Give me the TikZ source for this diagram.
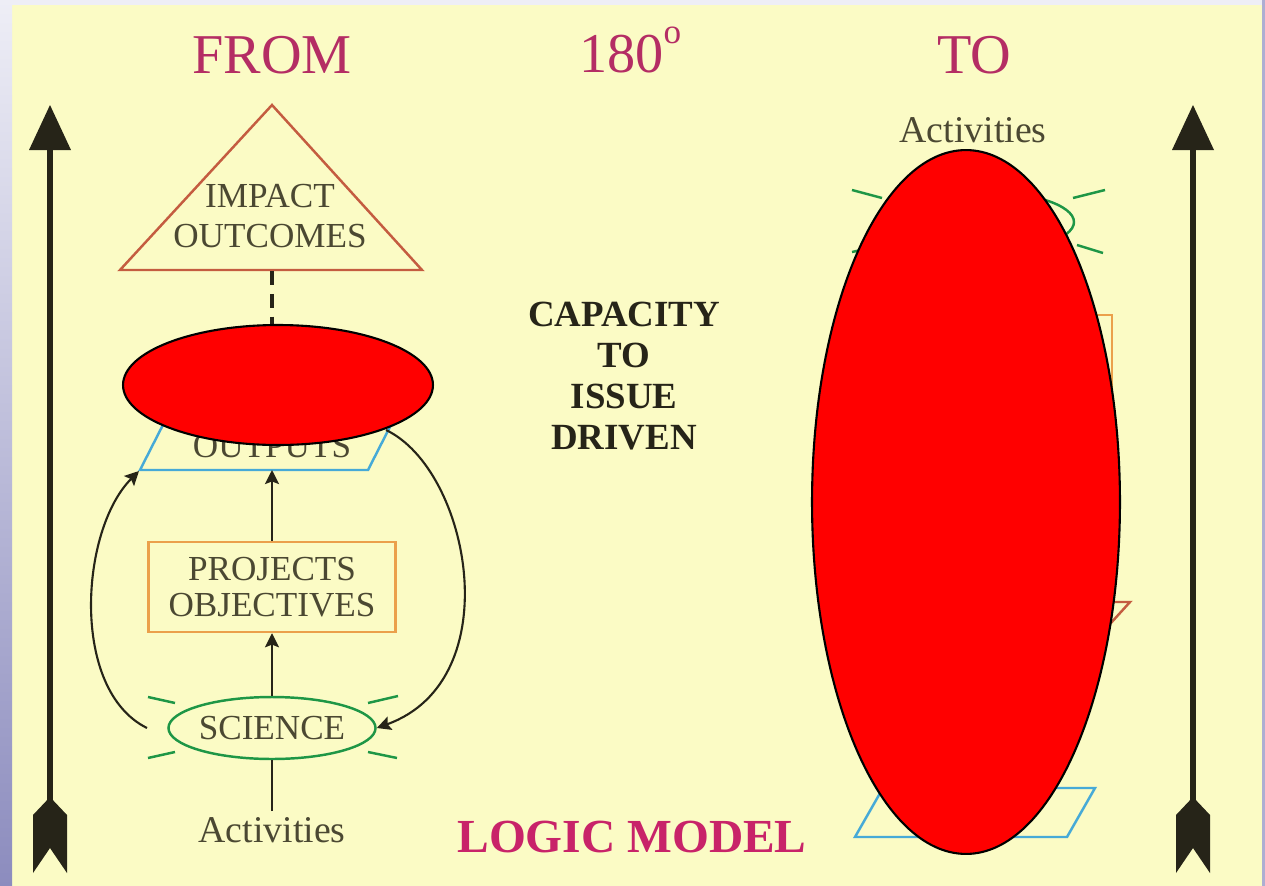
\documentclass[tikz,border=0pt]{standalone}
\usepackage{fontspec}
\setmainfont{Liberation Serif}
\usetikzlibrary{arrows.meta,shapes.geometric}

\definecolor{paper}{RGB}{251,251,197}
\definecolor{edgetop}{RGB}{238,238,246}
\definecolor{edgebot}{RGB}{140,140,190}
\definecolor{titlered}{RGB}{180,45,100}
\definecolor{logicred}{RGB}{200,35,105}
\definecolor{labelgray}{RGB}{75,72,50}
\definecolor{inkdark}{RGB}{38,36,24}
\definecolor{tricol}{RGB}{196,92,64}
\definecolor{boxcol}{RGB}{235,160,75}
\definecolor{paracol}{RGB}{70,170,215}
\definecolor{scicol}{RGB}{30,150,70}

\begin{document}
\begin{tikzpicture}[x=0.02cm,y=-0.02cm,
    title/.style={text=titlered,font=\fontsize{32}{36}\selectfont},
    lbl/.style={text=labelgray,font=\fontsize{20}{23}\selectfont,align=center},
    bigline/.style={line width=3.4pt,draw=inkdark},
    conn/.style={line width=1.2pt,draw=inkdark,-{Stealth[length=8pt,width=8pt,inset=1.5pt]}},
    ray/.style={line width=1.4pt,draw=scicol},
    redact/.style={fill=red,draw=black,line width=1.2pt}]
    % background
    \fill[paper] (0,0) rectangle (1265,886);
    \fill[edgetop] (0,0) rectangle (1265,5);
    \shade[top color=edgetop,bottom color=edgebot] (0,0) rectangle (12,886);
    \fill[edgebot!70] (1262,0) rectangle (1265,886);

    % side arrows
    \foreach \X in {50,1193}{
        \draw[bigline] (\X,140) -- (\X,810);
        \fill[inkdark] (\X,105) -- (\X+21,150) -- (\X-21,150) -- cycle;
        \fill[inkdark] (\X,797) -- (\X+17,815) -- (\X+17,873) -- (\X,848)
            -- (\X-17,873) -- (\X-17,815) -- cycle;
    }

    % titles
    \node[title] (from) at (272,55) {FROM};
    \node[title,anchor=base west] (deg) at (573,72) {180\raisebox{16pt}{\fontsize{20}{20}\selectfont o}};
    \node[title] (to) at (974,55) {TO};

    % left: logic model from activities up
    \draw[tricol,line width=1.4pt] (120,270) -- (272,105) -- (422,270) -- cycle;
    \node[lbl] (impact) at (270,216) {IMPACT\\OUTCOMES};
    \coordinate (tribase) at (272,271);
    \coordinate (outtop) at (272,415);
    \draw[inkdark,line width=2pt,dash pattern=on 8pt off 5pt] (tribase) -- (outtop);

    \draw[paracol,line width=1.4pt] (140,470) -- (368,470) -- (396,415) -- (168,415) -- cycle;
    \node[lbl] (outp) at (272,446) {OUTPUTS};
    \coordinate (outb) at (272,470);
    \coordinate (outbl) at (139,471);
    \coordinate (outr) at (386,430);

    \node[lbl,draw=boxcol,line width=1.4pt,minimum width=4.94cm,minimum height=1.8cm,
        inner sep=0pt,font=\fontsize{20}{20.5}\selectfont] (proj) at (272,587) {PROJECTS\\OBJECTIVES};

    \node[lbl,draw=scicol,line width=1.4pt,ellipse,minimum width=3.88cm,minimum height=1.24cm,
        inner sep=0pt] (sci) at (272,728) {SCIENCE};
    \draw[ray] (148,697) -- (175,703);
    \draw[ray] (148,758) -- (175,752);
    \draw[ray] (368,703) -- (398,696);
    \draw[ray] (368,752) -- (397,758);

    \node[lbl,font=\fontsize{21.5}{24}\selectfont] (act) at (272,830) {Activities};
    \coordinate (lcurl) at (147,728);

    \draw[line width=1.2pt,draw=inkdark] (act.north) -- (sci.south);
    \draw[conn] (sci.north) -- (proj.south);
    \draw[conn] (proj.north) -- (outb);
    \draw[conn] (lcurl) .. controls (70,690) and (80,530) .. (outbl);
    \draw[conn] (outr) .. controls (470,470) and (510,680) .. (sci.east);

    % middle
    \node[text=inkdark,font=\bfseries\fontsize{21}{23.5}\selectfont,align=center] (cap) at (624,376)
        {CAPACITY\\TO\\ISSUE\\DRIVEN};
    \node[text=logicred,font=\bfseries\fontsize{27}{30}\selectfont] (logic) at (632,837) {LOGIC MODEL};

    % right: same model turned round
    \node[lbl,font=\fontsize{21.5}{24}\selectfont] (act2) at (973,130) {Activities};
    \draw[scicol,line width=1.4pt] (977,222) ellipse [x radius=1.94cm,y radius=0.62cm];
    \draw[ray] (852,190) -- (882,198);
    \draw[ray] (852,252) -- (880,246);
    \draw[ray] (1073,198) -- (1105,190);
    \draw[ray] (1077,245) -- (1103,253);
    \draw[boxcol,line width=1.4pt] (840,315) rectangle (1112,405);
    \draw[tricol,line width=1.4pt] (830,602) -- (1130,602) -- (980,767) -- cycle;
    \draw[paracol,line width=1.4pt] (855,837) -- (1067,837) -- (1095,788) -- (883,788) -- cycle;

    % covers
    \draw[redact] (278,385) ellipse [x radius=3.1cm,y radius=1.2cm];
    \draw[redact] (966,502) ellipse [x radius=3.08cm,y radius=7.04cm];
\end{tikzpicture}
\end{document}
